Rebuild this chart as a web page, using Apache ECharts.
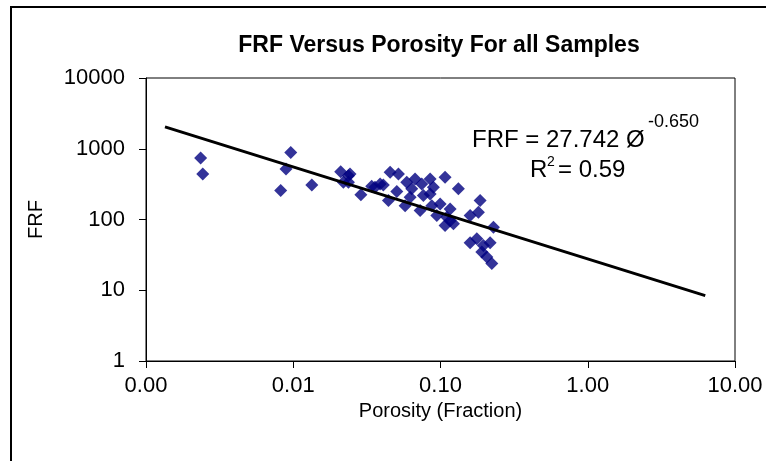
<!DOCTYPE html>
<html><head><meta charset="utf-8">
<script src="https://cdn.jsdelivr.net/npm/echarts@6/dist/echarts.min.js"></script>
<style>html,body{margin:0;padding:0;background:#fff}#c{width:766px;height:461px}</style>
</head><body><div id="c"></div>
<script>
const porosity = [0.00235,0.00243,0.00962,0.00893,0.00822,0.01337,0.0210,0.0237,0.0219,0.0243,0.0237,0.0288,0.0341,0.0389,0.0359,0.0409,0.0455,0.0518,0.0443,0.0505,0.0575,0.0590,0.0622,0.0638,0.0672,0.0746,0.0850,0.0850,0.1074,0.0895,0.0765,0.0727,0.0873,0.0944,0.0994,0.1162,0.1074,0.1104,0.1162,0.1224,0.1323,0.1858,0.1809,0.1589,0.2288,0.1589,0.1764,0.1956,0.2173,0.1908,0.2063,0.2231];
const frf      = [740,440,887,518,256,308,474,417,335,440,335,223,294,318,285,308,464,440,185,248,157,335,206,271,374,318,374,230,394,285,218,134,157,114,166,141,82,108,96,87,271,185,127,114,78,47,53.5,43,47,34.6,29.4,23.8];
const trendX = [0.001346, 6.28];
const trendY = [2040, 8.4];
const xTicks = [0.001, 0.01, 0.1, 1, 10];
const yTicks = [1, 10, 100, 1000, 10000];

const FONT = 'Liberation Sans';
const chart = echarts.init(document.getElementById('c'), null, {renderer:'canvas'});
chart.setOption({
  animation:false,
  backgroundColor:'#fff',
  title:{text:'FRF Versus Porosity For all Samples', left:434, top:29, textAlign:'center',
    textStyle:{fontFamily:FONT, fontSize:23, fontWeight:'bold', color:'#000'}},
  grid:{left:146, right:31, top:78, bottom:100, show:true, borderColor:'#000', borderWidth:1, containLabel:false},
  xAxis:{type:'log', logBase:10, min:xTicks[0], max:xTicks[xTicks.length-1],
    name:'Porosity (Fraction)', nameLocation:'middle', nameGap:37,
    nameTextStyle:{fontFamily:FONT, fontSize:20, color:'#000'},
    axisLine:{show:true, lineStyle:{color:'#000', width:1}},
    axisTick:{show:true, inside:false, length:7, lineStyle:{color:'#000'}},
    minorTick:{show:false}, splitLine:{show:false},
    axisLabel:{fontFamily:FONT, fontSize:22, color:'#000', margin:14,
      formatter:v=>Number(v).toFixed(2)}},
  yAxis:{type:'log', logBase:10, min:yTicks[0], max:yTicks[yTicks.length-1],
    name:'FRF', nameLocation:'middle', nameGap:100, nameRotate:90,
    nameTextStyle:{fontFamily:FONT, fontSize:20, color:'#000'},
    axisLine:{show:true, lineStyle:{color:'#000', width:1}},
    axisTick:{show:true, inside:false, length:7, lineStyle:{color:'#000'}},
    splitLine:{show:false},
    axisLabel:{fontFamily:FONT, fontSize:22, color:'#000', margin:21,
      formatter:v=>String(Math.round(v))}},
  series:[
    {type:'scatter', symbol:'diamond', symbolSize:13, itemStyle:{color:'#000080'},
     data:porosity.map((x,i)=>[x,frf[i]]), z:2},
    {type:'line', showSymbol:false, symbol:'none', lineStyle:{color:'#000', width:3},
     data:trendX.map((x,i)=>[x,trendY[i]]), z:3}
  ],
  graphic:[
    {type:'rect', shape:{x:11, y:7, width:800, height:500}, style:{fill:null, stroke:'#000', lineWidth:2}, silent:true},
    {type:'text', left:472, top:128, style:{text:'FRF = 27.742 Ø', fontFamily:FONT, fontSize:24, fill:'#000'}},
    {type:'text', left:648, top:113, style:{text:'-0.650', fontFamily:FONT, fontSize:18, fill:'#000'}},
    {type:'text', left:530, top:158, style:{text:'R', fontFamily:FONT, fontSize:24, fill:'#000'}},
    {type:'text', left:547, top:155, style:{text:'2', fontFamily:FONT, fontSize:14, fill:'#000'}},
    {type:'text', left:558, top:158, style:{text:'= 0.59', fontFamily:FONT, fontSize:24, fill:'#000'}}
  ]
});
</script></body></html>
